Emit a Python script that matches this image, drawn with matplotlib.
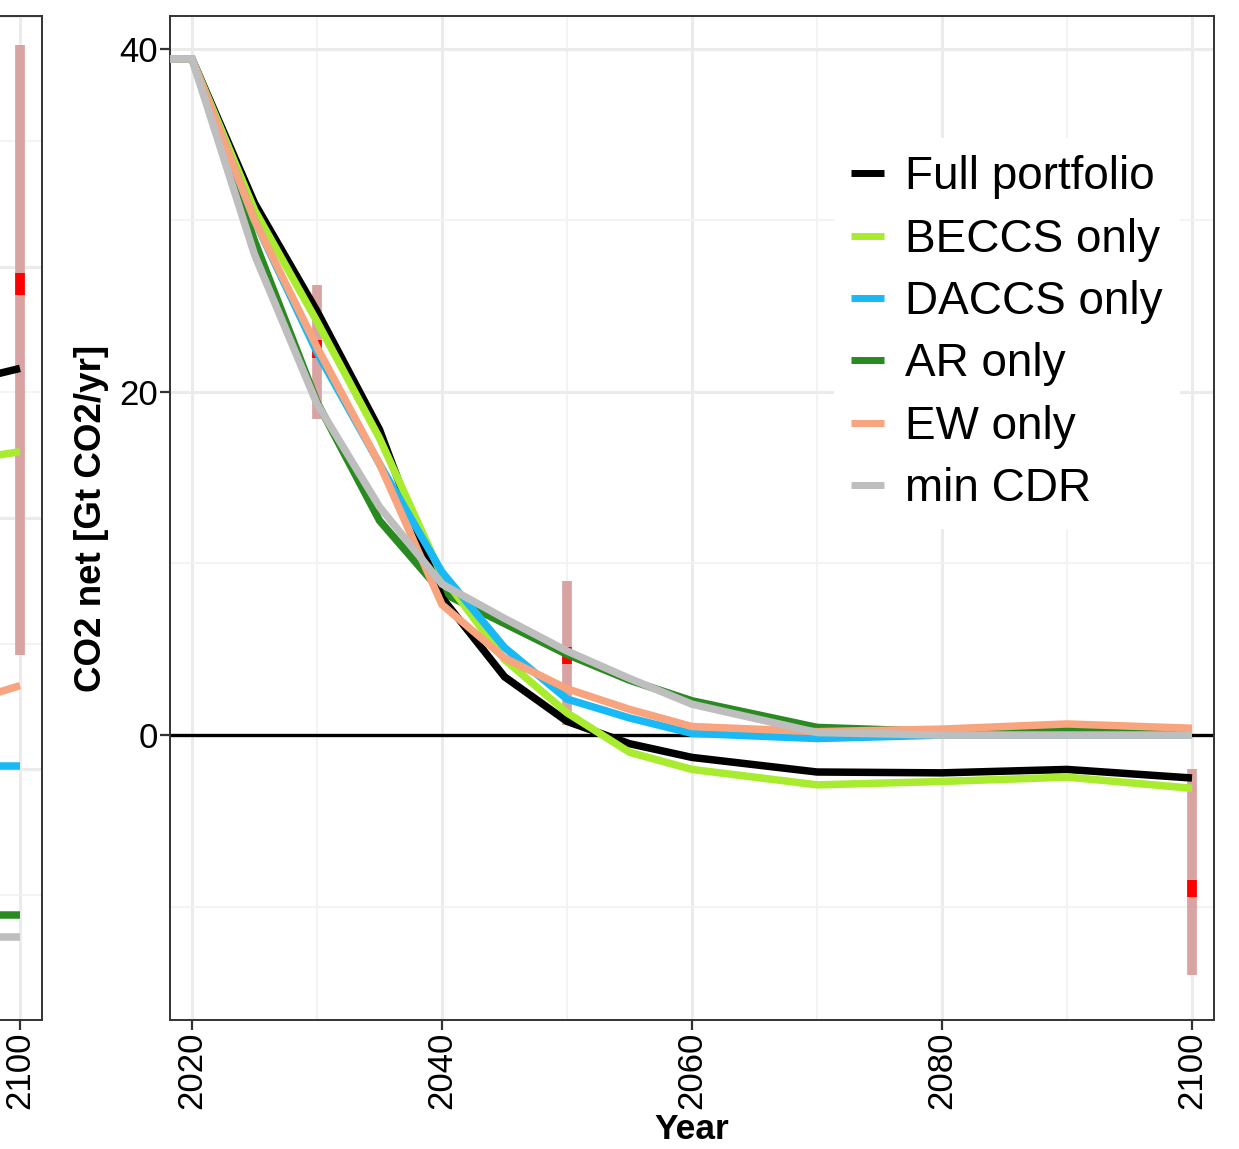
import numpy as np
import matplotlib
matplotlib.use("Agg")
import matplotlib.pyplot as plt
from matplotlib.ticker import MultipleLocator, FixedLocator, NullFormatter

plt.rcParams['font.family'] = ['Liberation Sans', 'DejaVu Sans']

# ---------------- data (main panel) ----------------
years = [2015, 2020, 2025, 2030, 2035, 2040, 2045, 2050, 2055, 2060, 2070, 2080, 2090, 2100]
full_portfolio = [39.4, 39.4, 31.0, 24.7, 17.8, 8.0, 3.4, 0.8, -0.5, -1.3, -2.15, -2.2, -2.0, -2.5]
beccs_only = [39.4, 39.4, 30.6, 24.1, 17.3, 9.3, 4.4, 1.3, -1.0, -2.0, -2.9, -2.7, -2.45, -3.1]
daccs_only = [39.4, 39.4, 30.0, 22.3, 15.8, 9.5, 5.1, 2.1, 1.0, 0.1, -0.2, 0.0, 0.0, 0.0]
ar_only = [39.4, 39.4, 28.8, 19.4, 12.5, 8.3, 6.5, 4.7, 3.2, 2.0, 0.45, 0.2, 0.35, 0.3]
ew_only = [39.4, 39.4, 30.0, 22.6, 15.8, 7.6, 4.5, 2.7, 1.5, 0.5, 0.2, 0.35, 0.65, 0.4]
min_cdr = [39.4, 39.4, 28.0, 19.3, 13.3, 8.8, 6.8, 4.9, 3.3, 1.8, 0.15, 0.0, 0.0, 0.0]

series_labels = ["Full portfolio", "BECCS only", "DACCS only", "AR only", "EW only", "min CDR"]
series_colors = ["#000000", "#A8EB2F", "#19B9F5", "#2A8A22", "#F8A47E", "#BEBEBE"]
series_z = [3.1, 3.2, 3.3, 3.0, 3.4, 3.5]

range_years = [2030, 2050, 2100]
range_low = [18.4, 0.6, -14.0]
range_high = [26.2, 9.0, -2.0]
range_mid = [22.5, 4.65, -8.95]

x_major = [2020, 2040, 2060, 2080, 2100]
y_major = [0, 20, 40]

# ---------------- data (left, partially visible panel) ----------------
left_years = [2090, 2100]
left_full = [61.9, 64.9]
left_beccs = [54.7, 56.6]
left_daccs = [25.3, 25.3]
left_ar = [10.5, 10.5]
left_ew = [29.5, 33.3]
left_min = [8.3, 8.3]
left_range_year = [2100]
left_range_low = [36.4]
left_range_high = [97.1]
left_range_mid = [73.3]

# ---------------- figure ----------------
W, H = 1239, 1149
fig = plt.figure(figsize=(W / 100, H / 100), dpi=100)

def px_axes(l, t, r, b):
    return [l / W, 1 - b / H, (r - l) / W, (b - t) / H]

ax = fig.add_axes(px_axes(170, 16, 1214, 1020))
axl = fig.add_axes(px_axes(170 - 1214 + 42, 16, 42, 1020))

grid_major = dict(color="#EBEBEB", lw=2.2, zorder=0)
grid_minor = dict(color="#F2F2F2", lw=1.3, zorder=0)
LW = 5.4
bar_color = "#D9A3A3"

def style(a):
    for s in a.spines.values():
        s.set_color("#333333")
        s.set_linewidth(1.4)
    a.tick_params(axis="both", which="major", length=7, width=1.6, color="#333333",
                  labelsize=25, labelcolor="black", pad=1.5)
    a.tick_params(axis="both", which="minor", length=0)
    a.set_axisbelow(True)

# main panel
ax.set_xlim(2018.24, 2101.76)
ax.set_ylim(-16.6, 41.9)
ax.xaxis.set_major_locator(FixedLocator(x_major))
ax.xaxis.set_minor_locator(MultipleLocator(10))
ax.yaxis.set_major_locator(FixedLocator(y_major))
ax.yaxis.set_minor_locator(MultipleLocator(10))
ax.grid(True, which="major", **grid_major)
ax.grid(True, which="minor", **grid_minor)
style(ax)
for lab in ax.get_xticklabels():
    lab.set_rotation(90)

ax.axhline(0, color="black", lw=2.4, zorder=1)
ax.vlines(range_years, range_low, range_high, color=bar_color, lw=7, zorder=2)
ax.vlines(range_years, np.array(range_mid) - 0.5, np.array(range_mid) + 0.5,
          color="red", lw=7, zorder=2.1)

all_series = [full_portfolio, beccs_only, daccs_only, ar_only, ew_only, min_cdr]
for vals, lab, col, z in zip(all_series, series_labels, series_colors, series_z):
    ax.plot(years, vals, color=col, lw=LW, label=lab, zorder=z,
            solid_joinstyle="miter", solid_capstyle="butt")

ax.set_xlabel("Year", fontsize=25.5, fontweight="bold", labelpad=2.5)
ax.set_ylabel("CO2 net [Gt CO2/yr]", fontsize=26.5, fontweight="bold", labelpad=7.5)

leg = ax.legend(loc="upper left", bbox_to_anchor=(834 / W, 1 - 138 / H),
                bbox_transform=fig.transFigure, borderaxespad=0,
                fontsize=33, handlelength=0.72, handletextpad=0.45,
                labelspacing=0.40, borderpad=0.38, frameon=True, fancybox=False)
leg.get_frame().set_edgecolor("none")
leg.get_frame().set_facecolor("white")
leg.get_frame().set_alpha(1)
for h in leg.get_lines():
    h.set_linewidth(5)

# left panel (only its right edge is in view)
axl.set_xlim(2018.24, 2101.76)
axl.set_ylim(0, 100)
axl.xaxis.set_major_locator(FixedLocator([2100]))
axl.xaxis.set_minor_locator(FixedLocator([2020, 2030, 2040, 2050, 2060, 2070, 2080, 2090]))
axl.yaxis.set_major_locator(MultipleLocator(25))
axl.yaxis.set_minor_locator(MultipleLocator(12.5))
axl.yaxis.set_major_formatter(NullFormatter())
axl.grid(True, which="major", **grid_major)
axl.grid(True, which="minor", **grid_minor)
style(axl)
axl.tick_params(axis="y", which="major", length=0)
for lab in axl.get_xticklabels():
    lab.set_rotation(90)
axl.vlines(left_range_year, left_range_low, left_range_high, color=bar_color, lw=7, zorder=2)
axl.vlines(left_range_year, np.array(left_range_mid) - 1.1, np.array(left_range_mid) + 1.1,
           color="red", lw=7, zorder=2.1)
left_series = [left_full, left_beccs, left_daccs, left_ar, left_ew, left_min]
for vals, col, z in zip(left_series, series_colors, series_z):
    axl.plot(left_years, vals, color=col, lw=LW, zorder=z, solid_capstyle="butt")

fig.savefig("out.png", dpi=100, facecolor="white")
